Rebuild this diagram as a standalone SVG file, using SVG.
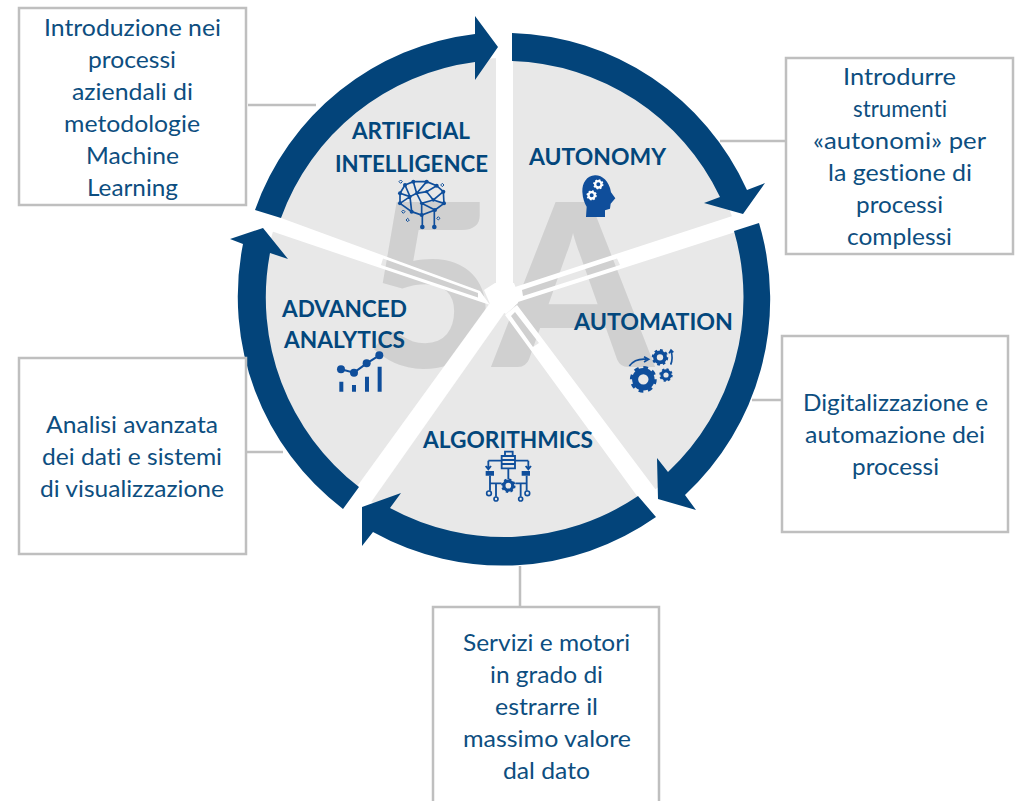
<svg xmlns="http://www.w3.org/2000/svg" xmlns:xlink="http://www.w3.org/1999/xlink" width="1019" height="801" viewBox="0 0 1019 801">
<style>
.arc{fill:#03447a}
.spoke{fill:#fff;fill-rule:evenodd}
.lbl{font:700 23px Lato,"Liberation Sans",sans-serif;fill:#03477c;text-anchor:middle;font-variant-ligatures:none}
.txt{font:400 22.5px Lato,"Liberation Sans",sans-serif;fill:#0d4e80;text-anchor:middle;font-variant-ligatures:none}
.box{fill:#fff;stroke:#bfbfbf;stroke-width:2.5}
.con{stroke:#bfbfbf;stroke-width:2.5;fill:none}
.big{font:900 228px Lato,"Liberation Sans",sans-serif;fill:#d0d0d0}
.ic{fill:#0f4e9b;stroke:none}
.il{fill:none;stroke:#0f4e9b}
</style>
<defs>
<g id="gear">
<circle r="9.500" fill="none" stroke="currentColor" stroke-width="7"/>
<circle r="13" fill="none" stroke="currentColor" stroke-width="5" pathLength="16" stroke-dasharray="1 1"/>
</g>
<g id="spark"><path d="M0-5 5 0 0 5-5 0Z" fill="none" stroke="#0f4e9b" stroke-width="3"/></g>
</defs>
<rect width="1019" height="801" fill="#fff"/>
<g id="connectors">
<path class="con" d="M248 105H316"/>
<path class="con" d="M720 141H786"/>
<path class="con" d="M752 400H782"/>
<path class="con" d="M246 452H283"/>
<path class="con" d="M520 566V607"/>
</g>
<g id="pie">
<circle cx="505" cy="300" r="242" fill="#e8e8e8"/>
<text class="big" x="365" y="367">5</text>
<text class="big" x="493" y="367">A</text>
<path class="spoke" d="M496 25H513V290H496Z"/>
<path class="spoke" d="M760 207 515 287 518 302 754 226ZM522 290 617 258.5 620 265 523 296Z"/>
<path class="spoke" d="M262 211 480 291 490 305 244 222ZM383 258.5 478 293 478 297.5 381 265Z"/>
<path class="spoke" d="M345 503 490 303 505 312 362 515Z"/>
<path class="spoke" d="M505 315 648 511 668 506 517 305ZM515 312 539 343 533 347 511 316Z"/>
<path class="spoke" d="M484 290 495 283 514 283 519 296 518 303 506 314 490 304Z"/>
</g>
<g id="node-artificial-intelligence">
<path class="arc" d="M255 210A267 267 0 0 1 475 34L475 16 498 47 475 80 475 62A239 239 0 0 0 281 218Z"/>
<text class="lbl" x="411" y="139" textLength="118" lengthAdjust="spacingAndGlyphs">ARTIFICIAL</text>
<text class="lbl" x="411.500" y="172" textLength="153" lengthAdjust="spacingAndGlyphs">INTELLIGENCE</text>
<g transform="translate(380 170) scale(.3333)">
<path class="il" stroke-width="5" d="M75 45 100 35 140 35 170 47 190 65 192 100 165 120 125 135 95 125 60 100 60 70 75 45M100 35 110 70 140 35M110 70 140 65 170 47M140 65 160 90 190 65M160 90 192 100M160 90 125 100 110 70M110 70 90 80 75 45M90 80 60 70M90 80 60 100M90 80 95 125M125 100 125 135M165 120 125 100M127 135V170M163 120V170"/>
<g class="ic"><circle cx="100" cy="35" r="6"/><circle cx="140" cy="35" r="6"/><circle cx="170" cy="47" r="6"/><circle cx="190" cy="65" r="6"/><circle cx="192" cy="100" r="6"/><circle cx="165" cy="120" r="6"/><circle cx="125" cy="135" r="6"/><circle cx="95" cy="125" r="6"/><circle cx="60" cy="100" r="6"/><circle cx="60" cy="70" r="6"/><circle cx="75" cy="45" r="6"/><circle cx="110" cy="70" r="5"/><circle cx="140" cy="65" r="5"/><circle cx="90" cy="80" r="5"/><circle cx="125" cy="100" r="5"/><circle cx="160" cy="90" r="5"/><circle cx="127" cy="171" r="7"/><circle cx="163" cy="171" r="7"/></g>
<use xlink:href="#spark" href="#spark" x="62" y="35"/><use xlink:href="#spark" href="#spark" x="187" y="45"/><use xlink:href="#spark" href="#spark" x="70" y="125"/><use xlink:href="#spark" href="#spark" x="83" y="150"/><use xlink:href="#spark" href="#spark" x="175" y="145"/>
</g>
</g>
<g id="node-autonomy">
<path class="arc" d="M512 33A267 267 0 0 1 747 190L765 183 743 214 704 203 720 197A239 239 0 0 0 512 61Z"/>
<text class="lbl" x="597.500" y="165" textLength="137" lengthAdjust="spacingAndGlyphs">AUTONOMY</text>
<g transform="translate(570 165) scale(.3333)">
<path class="ic" d="M48 156 105 156 105 136 120 131 122 116 136 100 123 82C118 48 95 30 75 31 50 32 36 55 37 80 38 100 44 115 50 125Z"/>
<use xlink:href="#gear" href="#gear" transform="translate(85 58)" color="#fff"/>
<use xlink:href="#gear" href="#gear" transform="translate(65 91)" color="#fff"/>
</g>
</g>
<g id="node-automation">
<path class="arc" d="M759 223A267 267 0 0 1 685 495L696 510 658 499 657 458 668 472A239 239 0 0 0 734 231Z"/>
<text class="lbl" x="653.500" y="330" textLength="159" lengthAdjust="spacingAndGlyphs">AUTOMATION</text>
<g transform="translate(620 340) scale(.3333)">
<use xlink:href="#gear" href="#gear" transform="translate(70 118) scale(2.600)" color="#0f4e9b"/>
<use xlink:href="#gear" href="#gear" transform="translate(120 52) scale(1.600)" color="#0f4e9b"/>
<use xlink:href="#gear" href="#gear" transform="translate(138 105) scale(1.300)" color="#0f4e9b"/>
<path class="il" stroke-width="5" d="M28 78C40 62 60 56 80 58M72 50 86 58 72 66M152 74C158 60 157 45 153 32M147 40 153 30 160 37"/>
</g>
</g>
<g id="node-algorithmics">
<path class="arc" d="M656 517A267 267 0 0 1 373 532L362 546 362 507 401 493 390 508A239 239 0 0 0 638 496Z"/>
<text class="lbl" x="508" y="448" textLength="170" lengthAdjust="spacingAndGlyphs">ALGORITHMICS</text>
<g transform="translate(470 440) scale(.3333)">
<path class="il" stroke-width="5.500" d="M95 48H135V85H95ZM95 60H135M95 72H135M105 48V35H128V48M55 62H95M135 62H175M55 62V86M175 62V86M47 78 55 88 63 78M167 78 175 88 183 78M115 85V118M60 107V152M170 107V152M60 130H78V170M170 130H152V170M78 130H94M152 130H136"/>
<path class="ic" d="M47 93H72V107H47ZM155 93H180V107H155Z"/>
<circle class="il" stroke-width="5" cx="57" cy="160" r="7"/><circle class="il" stroke-width="5" cx="172" cy="160" r="7"/><circle class="il" stroke-width="5" cx="78" cy="177" r="6"/><circle class="il" stroke-width="5" cx="152" cy="177" r="6"/>
<use xlink:href="#gear" href="#gear" transform="translate(115 137) scale(1.400)" color="#0f4e9b"/>
</g>
</g>
<g id="node-advanced-analytics">
<path class="arc" d="M343 509A267 267 0 0 1 243 244L230 239 263 228 288 259 270 253A239 239 0 0 0 359 487Z"/>
<text class="lbl" x="344.500" y="317" textLength="125" lengthAdjust="spacingAndGlyphs">ADVANCED</text>
<text class="lbl" x="344.500" y="348" textLength="121" lengthAdjust="spacingAndGlyphs">ANALYTICS</text>
<g transform="translate(230 280) scale(.3333)">
<path class="ic" d="M328 305H340V335H328ZM366 315H378V335H366ZM405 290H417V335H405ZM443 260H455V335H443Z"/>
<path class="il" stroke-width="6" d="M333 268 372 278 410 250 448 226"/>
<g class="ic"><circle cx="333" cy="268" r="12"/><circle cx="372" cy="278" r="12"/><circle cx="410" cy="250" r="12"/><circle cx="448" cy="226" r="12"/></g>
</g>
</g>
<g id="box-ai">
<rect class="box" x="19" y="8" width="227" height="197"/>
<text class="txt" x="132.500" y="36" textLength="177" lengthAdjust="spacingAndGlyphs">Introduzione nei</text>
<text class="txt" x="132" y="68" textLength="88" lengthAdjust="spacingAndGlyphs">processi</text>
<text class="txt" x="132.500" y="100" textLength="121" lengthAdjust="spacingAndGlyphs">aziendali di</text>
<text class="txt" x="132" y="132" textLength="136" lengthAdjust="spacingAndGlyphs">metodologie</text>
<text class="txt" x="132.500" y="164" textLength="93" lengthAdjust="spacingAndGlyphs">Machine</text>
<text class="txt" x="132.500" y="196" textLength="91" lengthAdjust="spacingAndGlyphs">Learning</text>
</g>
<g id="box-autonomy">
<rect class="box" x="786" y="58" width="227" height="196"/>
<text class="txt" x="899.500" y="85" textLength="113" lengthAdjust="spacingAndGlyphs">Introdurre</text>
<text class="txt" x="900" y="117" textLength="94" lengthAdjust="spacingAndGlyphs">strumenti</text>
<text class="txt" x="899.500" y="149" textLength="173" lengthAdjust="spacingAndGlyphs">«autonomi» per</text>
<text class="txt" x="900" y="181" textLength="144" lengthAdjust="spacingAndGlyphs">la gestione di</text>
<text class="txt" x="899.500" y="213" textLength="87" lengthAdjust="spacingAndGlyphs">processi</text>
<text class="txt" x="899.500" y="245" textLength="105" lengthAdjust="spacingAndGlyphs">complessi</text>
</g>
<g id="box-automation">
<rect class="box" x="782" y="336" width="226" height="196"/>
<text class="txt" x="895.500" y="411" textLength="185" lengthAdjust="spacingAndGlyphs">Digitalizzazione e</text>
<text class="txt" x="895" y="443" textLength="180" lengthAdjust="spacingAndGlyphs">automazione dei</text>
<text class="txt" x="895.500" y="475" textLength="87" lengthAdjust="spacingAndGlyphs">processi</text>
</g>
<g id="box-analytics">
<rect class="box" x="19" y="358" width="227" height="196"/>
<text class="txt" x="132" y="433" textLength="172" lengthAdjust="spacingAndGlyphs">Analisi avanzata</text>
<text class="txt" x="132" y="465" textLength="180" lengthAdjust="spacingAndGlyphs">dei dati e sistemi</text>
<text class="txt" x="132" y="497" textLength="184" lengthAdjust="spacingAndGlyphs">di visualizzazione</text>
</g>
<g id="box-algorithmics">
<rect class="box" x="433" y="607" width="226" height="210"/>
<text class="txt" x="546.500" y="651" textLength="167" lengthAdjust="spacingAndGlyphs">Servizi e motori</text>
<text class="txt" x="546.500" y="683" textLength="113" lengthAdjust="spacingAndGlyphs">in grado di</text>
<text class="txt" x="546.500" y="715" textLength="103" lengthAdjust="spacingAndGlyphs">estrarre il</text>
<text class="txt" x="547" y="747" textLength="168" lengthAdjust="spacingAndGlyphs">massimo valore</text>
<text class="txt" x="546.500" y="779" textLength="87" lengthAdjust="spacingAndGlyphs">dal dato</text>
</g>
</svg>
